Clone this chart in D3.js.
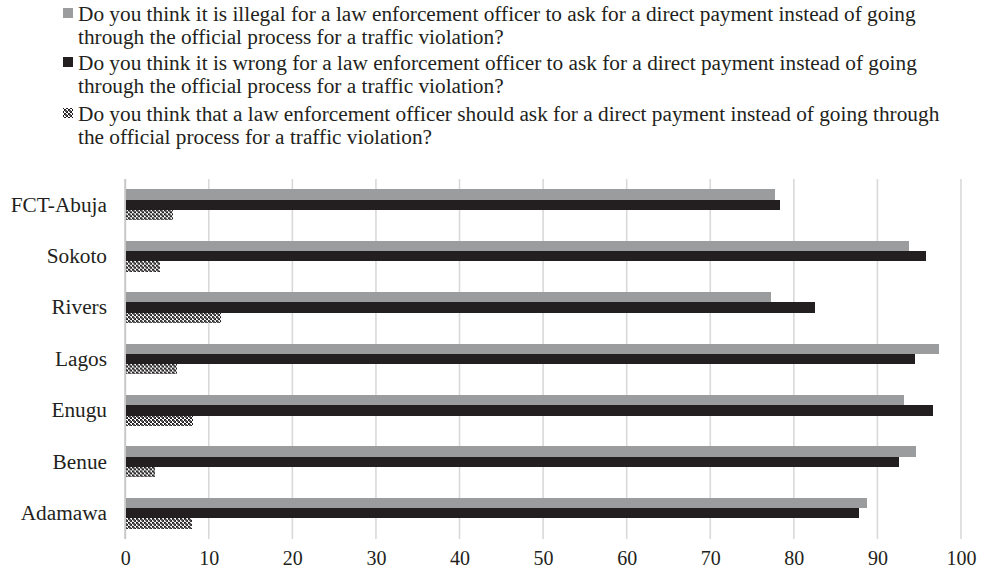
<!DOCTYPE html>
<html>
<head>
<meta charset="utf-8">
<script src="https://cdn.jsdelivr.net/npm/d3@7"></script>
<style>
  html, body { margin: 0; padding: 0; background: #fff; }
  svg { display: block; }
</style>
</head>
<body>
<svg id="chart" width="983" height="575"></svg>
<script>
// States, listed top to bottom as they appear on the chart
const states = ["FCT-Abuja", "Sokoto", "Rivers", "Lagos", "Enugu", "Benue", "Adamawa"];

// Share of respondents (%) for each question, in the same state order
const illegalValues = [77.8, 93.8, 77.3, 97.4, 93.2, 94.6, 88.7];
const wrongValues   = [78.4, 95.8, 82.5, 94.5, 96.7, 92.6, 87.8];
const shouldValues  = [5.7, 4.2, 11.5, 6.2, 8.1, 3.6, 8.0];

const xTicks = [0, 10, 20, 30, 40, 50, 60, 70, 80, 90, 100];

const seriesNames = [
  ["Do you think it is illegal for a law enforcement officer to ask for a direct payment instead of going",
   "through the official process for a traffic violation?"],
  ["Do you think it is wrong for a law enforcement officer to ask for a direct payment instead of going",
   "through the official process for a traffic violation?"],
  ["Do you think that a law enforcement officer should ask for a direct payment instead of going through",
   "the official process for a traffic violation?"]
];

const series = [
  { key: "illegal", values: illegalValues, fill: "#9a9c9e" },
  { key: "wrong",   values: wrongValues,   fill: "#231f20" },
  { key: "should",  values: shouldValues,  fill: "url(#checker)" }
];

const serif = "Liberation Serif";
const svg = d3.select("#chart");

// Dense black/white checker used for the third question
const defs = svg.append("defs");
const pat = defs.append("pattern")
  .attr("id", "checker")
  .attr("patternUnits", "userSpaceOnUse")
  .attr("width", 4).attr("height", 4);
pat.append("rect").attr("width", 4).attr("height", 4).attr("fill", "#fff");
pat.append("rect").attr("x", 0).attr("y", 0).attr("width", 2).attr("height", 2).attr("fill", "#231f20");
pat.append("rect").attr("x", 2).attr("y", 2).attr("width", 2).attr("height", 2).attr("fill", "#231f20");
pat.append("rect").attr("x", 1).attr("y", 1).attr("width", 2).attr("height", 2).attr("fill", "#555");

const plot = { left: 125.2, right: 961, top: 179, bottom: 539 };

const x = d3.scaleLinear().domain([0, 100]).range([plot.left, plot.right]);
const y = d3.scaleBand().domain(states).range([plot.top, plot.bottom]).paddingInner(0.4).paddingOuter(0.2);
const ySub = d3.scaleBand().domain(series.map(s => s.key)).range([0, y.bandwidth()]);

// Vertical gridlines
svg.append("g")
  .selectAll("line")
  .data(xTicks)
  .join("line")
  .attr("x1", d => x(d)).attr("x2", d => x(d))
  .attr("y1", plot.top).attr("y2", plot.bottom)
  .attr("stroke", d => d === 0 ? "#c8c8c8" : "#d9d9d9")
  .attr("stroke-width", d => d === 0 ? 2 : 1.6);

// Bars
const groups = svg.append("g")
  .selectAll("g")
  .data(states)
  .join("g")
  .attr("transform", d => `translate(0,${y(d)})`);

groups.selectAll("rect")
  .data((d, i) => series.map(s => ({ key: s.key, fill: s.fill, value: s.values[i] })))
  .join("rect")
  .attr("x", x(0) + 1)
  .attr("y", d => ySub(d.key))
  .attr("width", d => x(d.value) - x(0) - 1)
  .attr("height", ySub.bandwidth())
  .attr("fill", d => d.fill)
  .attr("shape-rendering", "crispEdges");

// Category axis labels
const yAxis = d3.axisLeft(y).tickSize(0).tickPadding(0);
const yg = svg.append("g").attr("transform", `translate(107,0)`).call(yAxis)
  .attr("font-family", serif).attr("font-size", 21.3);
yg.select(".domain").remove();
yg.selectAll("text").attr("fill", "#231f20");

// Value axis labels
const xAxis = d3.axisBottom(x).tickValues(xTicks).tickSize(0).tickPadding(0);
const xg = svg.append("g").attr("transform", `translate(0,${plot.bottom + 12})`).call(xAxis)
  .attr("font-family", serif).attr("font-size", 20);
xg.select(".domain").remove();
xg.selectAll("text").attr("fill", "#231f20");

// Legend
const legend = svg.append("g");
const legendFills = ["#9a9c9e", "#231f20", "url(#checker)"];
const entryY = [21, 70, 121];
seriesNames.forEach((lines, i) => {
  const g = legend.append("g").attr("transform", `translate(0,${entryY[i]})`);
  g.append("rect")
    .attr("x", 63).attr("y", -13)
    .attr("width", 10).attr("height", 10)
    .attr("fill", legendFills[i])
    .attr("shape-rendering", "crispEdges");
  const t = g.append("text")
    .attr("x", 78).attr("y", 0)
    .attr("font-family", serif)
    .attr("font-size", 21.3)
    .attr("fill", "#231f20");
  lines.forEach((line, j) => {
    t.append("tspan").attr("x", 78).attr("dy", j === 0 ? 0 : 23).text(line);
  });
});
</script>
</body>
</html>
